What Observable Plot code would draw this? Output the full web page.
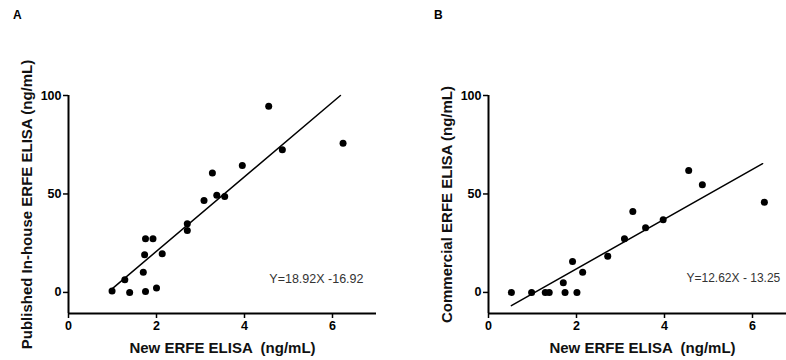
<!DOCTYPE html>
<html>
<head>
<meta charset="utf-8">
<script src="https://cdn.jsdelivr.net/npm/d3@7"></script>
<script src="https://cdn.jsdelivr.net/npm/@observablehq/plot@0.6"></script>
<style>
  body { margin: 0; background: #fff; }
  #wrap { position: relative; width: 786px; height: 360px; overflow: hidden; background: #fff; font-family: "Liberation Sans", Arial, sans-serif; }
  .panel { position: absolute; top: 0; }
  .letter { position: absolute; font-size: 12px; font-weight: bold; color: #000; }
</style>
</head>
<body>
<div id="wrap"></div>
<script>
// ---- Data ----
const newElisaA = [0.99, 1.28, 1.39, 1.70, 1.75, 1.73, 1.75, 1.92, 2.00, 2.13, 2.70, 2.70, 3.08, 3.27, 3.37, 3.55, 3.95, 4.55, 4.86, 6.24];
const inhouseA  = [0.7, 6.4, 0.0, 10.3, 0.5, 19.1, 27.2, 27.2, 2.2, 19.6, 31.5, 34.9, 46.7, 60.6, 49.4, 48.7, 64.5, 94.6, 72.4, 75.8];

const newElisaB = [0.52, 0.98, 1.29, 1.38, 1.70, 1.74, 1.91, 2.01, 2.14, 2.71, 3.09, 3.28, 3.57, 3.97, 4.55, 4.86, 6.27];
const commercialB = [0.0, 0.0, 0.0, 0.0, 4.9, 0.0, 15.7, 0.0, 10.3, 18.4, 27.2, 41.1, 32.8, 36.9, 61.9, 54.7, 45.8];

const fitA = { slope: 18.92, intercept: -16.92, label: "Y=18.92X -16.92", xEnd: 6.18 };
const fitB = { slope: 12.62, intercept: -13.25, label: "Y=12.62X - 13.25", xEnd: 6.23 };

const xTicks = [0, 2, 4, 6];
const yTicks = [0, 50, 100];
const xLabel = "New ERFE ELISA  (ng/mL)";
const yLabelA = "Published In-house ERFE ELISA (ng/mL)";
const yLabelB = "Commercial ERFE ELISA (ng/mL)";
const xDomain = [0, 7];
const yDomain = [-10.7, 100];

function panel({xs, ys, fit, ylabel, width, marginLeft, marginRight, eqAnchor, eqDx, eqTextAnchor, eqSize}) {
  const pts = xs.map((x, i) => ({x, y: ys[i]}));
  const x0 = d3.min(xs);
  const line = [x0, fit.xEnd].map(x => ({x, y: fit.slope * x + fit.intercept}));
  return Plot.plot({
    width, height: 360,
    marginTop: 95, marginBottom: 47, marginLeft, marginRight,
    style: { fontFamily: "'Liberation Sans', Arial, sans-serif", background: "#fff", color: "#000", overflow: "visible" },
    x: { domain: xDomain },
    y: { domain: yDomain },
    marks: [
      Plot.ruleX([xDomain[0]], { y1: yDomain[0], y2: yDomain[1], stroke: "#000", strokeWidth: 2 }),
      Plot.ruleY([yDomain[0]], { x1: xDomain[0], x2: xDomain[1], stroke: "#000", strokeWidth: 2 }),
      Plot.axisY({ ticks: yTicks, tickSize: 5, tickPadding: 2, tickFormat: d3.format("d"), label: null, fontSize: 12.5, fontWeight: "bold", strokeWidth: 1.5 }),
      Plot.axisX({ ticks: xTicks, tickSize: 5, tickPadding: 3, tickFormat: d3.format("d"), label: null, fontSize: 12.5, fontWeight: "bold", strokeWidth: 1.5, anchor: "bottom" }),
      Plot.text([ylabel], { frameAnchor: "left", rotate: -90, dx: -41, text: d => d, fontSize: 15, fontWeight: "bold", textAnchor: "middle", lineAnchor: "middle", fill: "#111" }),
      Plot.text([xLabel], { frameAnchor: "bottom", dy: 35, text: d => d, fontSize: 15, fontWeight: "bold", textAnchor: "middle", lineAnchor: "middle", fill: "#111" }),
      Plot.line(line, { x: "x", y: "y", stroke: "#000", strokeWidth: 1.5 }),
      Plot.dot(pts, { x: "x", y: "y", r: 3.5, fill: "#000", stroke: "none" }),
      Plot.text([fit.label], { frameAnchor: eqAnchor, dx: eqDx, dy: -35, text: d => d, fontSize: eqSize, fill: "#333", textAnchor: eqTextAnchor, lineAnchor: "middle" })
    ]
  });
}

const wrap = document.getElementById("wrap");

const a = panel({ xs: newElisaA, ys: inhouseA, fit: fitA, ylabel: yLabelA, width: 393, marginLeft: 68, marginRight: 17, eqAnchor: "bottom-right", eqDx: -13, eqTextAnchor: "end", eqSize: 12.5 });
a.classList.add("panel"); a.style.left = "0px";
wrap.appendChild(a);

const b = panel({ xs: newElisaB, ys: commercialB, fit: fitB, ylabel: yLabelB, width: 410, marginLeft: 95, marginRight: 7, eqAnchor: "bottom-left", eqDx: 198, eqTextAnchor: "start", eqSize: 12 });
b.classList.add("panel"); b.style.left = "393px";
wrap.appendChild(b);

const panelLetters = ["A", "B"];
const letterPos = [[13, 8], [434, 8]];
panelLetters.forEach((t, i) => {
  const d = document.createElement("div");
  d.className = "letter";
  d.textContent = t;
  d.style.left = letterPos[i][0] + "px";
  d.style.top = letterPos[i][1] + "px";
  wrap.appendChild(d);
});
</script>
</body>
</html>
